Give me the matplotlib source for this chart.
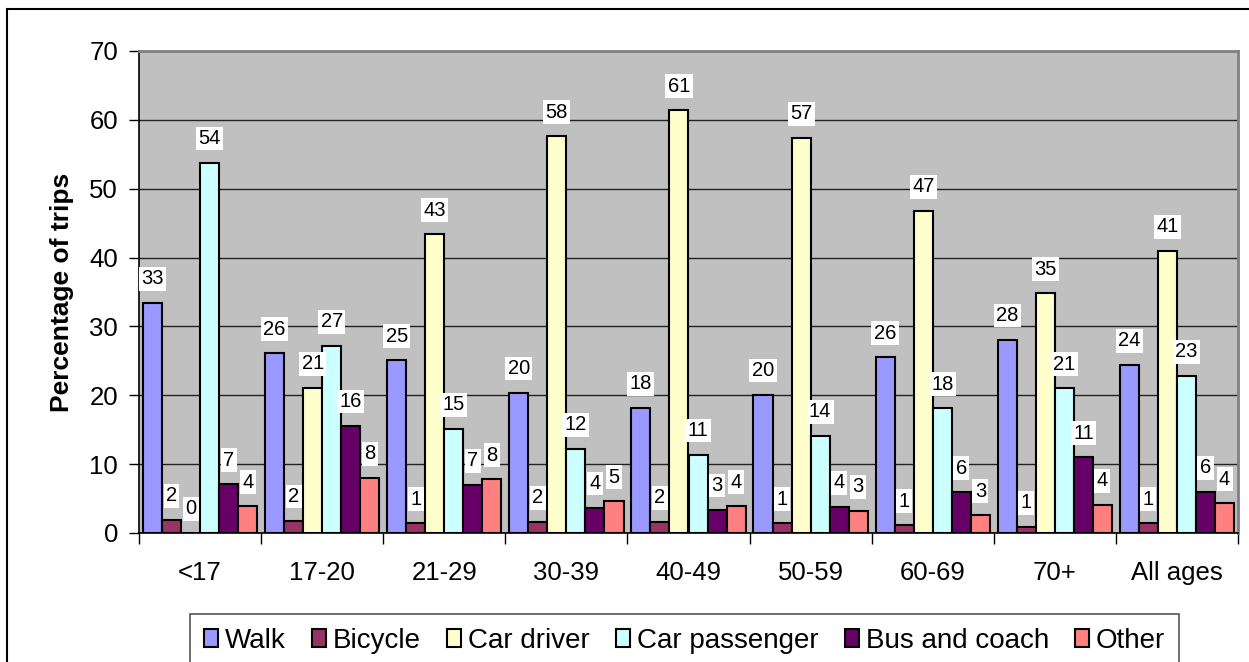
import matplotlib
matplotlib.use("Agg")
import matplotlib.pyplot as plt
from matplotlib.patches import Rectangle
from matplotlib.ticker import FixedLocator, NullFormatter
import numpy as np

plt.rcParams['font.family'] = ['Liberation Sans', 'DejaVu Sans']

age_groups = ["<17", "17-20", "21-29", "30-39", "40-49", "50-59", "60-69", "70+", "All ages"]
modes = ["Walk", "Bicycle", "Car driver", "Car passenger", "Bus and coach", "Other"]

walk = [33.4, 26.1, 25.1, 20.4, 18.2, 20.1, 25.5, 28.1, 24.4]
bicycle = [1.9, 1.8, 1.4, 1.6, 1.6, 1.4, 1.1, 0.9, 1.4]
car_driver = [0.0, 21.1, 43.4, 57.6, 61.4, 57.4, 46.8, 34.8, 41.0]
car_passenger = [53.8, 27.2, 15.1, 12.2, 11.4, 14.1, 18.1, 21.0, 22.8]
bus_coach = [7.1, 15.6, 7.0, 3.7, 3.4, 3.8, 5.9, 11.0, 6.0]
other = [3.9, 8.0, 7.8, 4.6, 3.9, 3.2, 2.6, 4.1, 4.3]

series = [walk, bicycle, car_driver, car_passenger, bus_coach, other]
colors = ["#9999FF", "#993366", "#FFFFCC", "#CCFFFF", "#660066", "#FF8080"]

W, H = 1249, 662
fig = plt.figure(figsize=(W / 100, H / 100), dpi=100)
ax = fig.add_axes([139 / W, 1 - 533 / H, (1238 - 139) / W, (533 - 51) / H])
ax.set_facecolor("#C0C0C0")

n = len(age_groups)
bar_w = 0.156
x = np.arange(n)
offsets = (np.arange(len(modes)) - (len(modes) - 1) / 2) * bar_w

handles = []
for vals, col, off, name in zip(series, colors, offsets, modes):
    bars = ax.bar(x + off, vals, width=bar_w, color=col, edgecolor="black",
                  linewidth=1.5, label=name, zorder=3)
    handles.append(bars)
    for xi, v in zip(x + off, vals):
        ax.annotate(f"{v:.0f}", xy=(xi, v), xytext=(0, 10.5), textcoords="offset points",
                    ha="center", va="bottom", fontsize=14.5, zorder=5,
                    bbox=dict(boxstyle="square,pad=0.12", fc="white", ec="none"))

ax.set_xlim(-0.5, n - 0.5)
ax.set_ylim(0, 70)
ax.set_yticks(np.arange(0, 71, 10))
ax.yaxis.grid(True, color="#222222", linewidth=1.0, zorder=1)
ax.set_axisbelow(True)

# category boundaries carry the ticks, centres carry the labels
ax.xaxis.set_major_locator(FixedLocator(np.arange(-0.5, n, 1.0)))
ax.xaxis.set_major_formatter(NullFormatter())
ax.xaxis.set_minor_locator(FixedLocator(x))
ax.set_xticklabels(age_groups, minor=True)
ax.tick_params(axis="x", which="major", length=8, width=1.0, direction="out")
ax.tick_params(axis="x", which="minor", length=0, pad=20, labelsize=18.5)
ax.tick_params(axis="y", length=7, width=1.0, direction="out", pad=8, labelsize=18.5)

for side in ("top", "right"):
    ax.spines[side].set_color("#808080")
    ax.spines[side].set_linewidth(2.0)
for side in ("left", "bottom"):
    ax.spines[side].set_color("black")
    ax.spines[side].set_linewidth(1.2)

ax.set_ylabel("Percentage of trips", fontsize=19, fontweight="bold", labelpad=11)

leg = fig.legend(handles=handles, labels=modes, loc="upper center",
                 bbox_to_anchor=(684.5 / W, 1 - 614 / H), ncol=6, fontsize=20,
                 frameon=True, fancybox=False, edgecolor="#555555", framealpha=1,
                 handlelength=0.5, handleheight=0.6, handletextpad=0.25,
                 columnspacing=0.95, borderpad=0.5, borderaxespad=0)
leg.get_frame().set_linewidth(1.2)

# outer chart border
fig.patches.append(Rectangle((7 / W, -0.2), 1.2, 1.2 - 9 / H, transform=fig.transFigure,
                             fill=False, edgecolor="black", linewidth=1.5, zorder=0))

fig.savefig("out.png", dpi=100)
